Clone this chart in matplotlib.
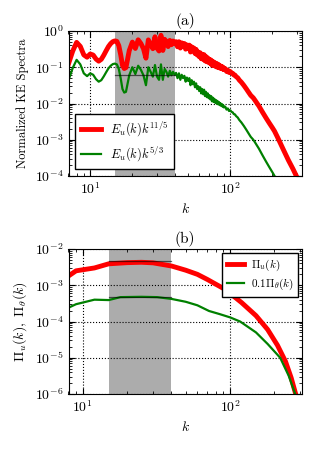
import numpy as np
import matplotlib
matplotlib.use("Agg")
import matplotlib.pyplot as plt

plt.rcParams.update({
    "font.family": "serif",
    "font.serif": ["cmr10", "DejaVu Serif"],
    "mathtext.fontset": "cm",
    "axes.formatter.use_mathtext": True,
    "font.size": 10,
    "xtick.direction": "in",
    "ytick.direction": "in",
    "xtick.top": True,
    "ytick.right": True,
    "xtick.major.size": 4,
    "ytick.major.size": 4,
    "xtick.minor.size": 2,
    "ytick.minor.size": 2,
    "axes.unicode_minus": False,
})

# ---- panel (a): compensated spectrum E_u(k) k^{5/3} ----
k_spec = [7, 7.5, 8, 8.5, 9, 9.5, 10, 10.5, 11, 11.5, 12, 12.5, 13, 13.5, 14, 14.5,
          15, 15.5, 16, 16.5, 17, 17.5, 18, 19, 20, 21, 22, 23, 24, 25, 26, 27, 28,
          29, 30, 31, 32, 33, 34, 35, 36, 37, 38, 39, 40, 41, 42, 43, 44, 45, 46,
          47, 48, 49, 50, 51, 52, 53, 54, 55, 56, 57, 58, 59, 60, 61, 62, 63, 64,
          65, 66, 67, 68, 69, 70, 71, 72, 73, 74, 75, 76, 77, 78, 79, 80, 81, 82,
          83, 84, 85, 86, 87, 88, 89, 90, 92, 94, 96, 98, 100, 102, 104, 106, 108,
          110, 113, 116, 120, 125, 130, 135, 140, 146, 150, 160, 170, 180, 190,
          200, 207, 220, 240, 260, 280, 300, 325]
E_k53 = [0.044, 0.095, 0.16, 0.12, 0.068, 0.057, 0.068, 0.062, 0.047, 0.04, 0.044,
         0.056, 0.073, 0.093, 0.11, 0.122, 0.126, 0.12, 0.09, 0.05, 0.025, 0.02,
         0.021, 0.06, 0.1, 0.065, 0.11, 0.085, 0.06, 0.032, 0.1, 0.075, 0.055,
         0.115, 0.055, 0.045, 0.12, 0.045, 0.09, 0.075, 0.055, 0.08, 0.06, 0.075,
         0.062, 0.07, 0.05, 0.068, 0.045, 0.062, 0.05, 0.058, 0.04, 0.052, 0.042,
         0.05, 0.032, 0.044, 0.034, 0.04, 0.028, 0.036, 0.025, 0.03, 0.022, 0.028,
         0.019, 0.025, 0.018, 0.024, 0.016, 0.021, 0.015, 0.019, 0.014, 0.017,
         0.013, 0.016, 0.0115, 0.0145, 0.011, 0.0135, 0.0105, 0.0125, 0.0098,
         0.0118, 0.0095, 0.011, 0.009, 0.0102, 0.0086, 0.0097, 0.0082, 0.0091,
         0.0078, 0.0082, 0.0068, 0.0073, 0.0062, 0.0065, 0.0059, 0.0057, 0.0051,
         0.005, 0.0045, 0.0041, 0.0035, 0.003, 0.0024, 0.0019, 0.0015, 0.0012,
         0.001, 0.00085, 0.00057, 0.00037, 0.00025, 0.000175, 0.000126, 0.0001,
         6e-5, 2.8e-5, 1.4e-5, 7.8e-6, 4.3e-6, 2e-6]
fit_a = [0.06]          # reference level in shaded band
band = [15, 40]         # inertial-range band

# ---- panel (b): fluxes ----
k_flux_u = [8, 9, 12, 15, 20, 25, 30, 40, 50, 60, 70, 80, 90, 100, 120, 150, 180,
            210, 238, 260, 279, 300]
Pi_u = [1.8e-3, 2.5e-3, 3.0e-3, 3.9e-3, 4.2e-3, 4.3e-3, 4.15e-3, 3.4e-3, 2.6e-3,
        2.0e-3, 1.45e-3, 1.07e-3, 8.2e-4, 6.0e-4, 3.3e-4, 1.45e-4, 6.0e-5,
        2.2e-5, 7.9e-6, 2.8e-6, 1.0e-6, 2.8e-7]
k_flux_t = [8, 9, 12, 15, 18, 25, 32, 40, 50, 60, 72, 85, 100, 117, 150, 180, 219,
            250, 277, 300]
Pi_t01 = [2.4e-4, 3.0e-4, 4.0e-4, 3.9e-4, 4.7e-4, 4.8e-4, 4.7e-4, 4.2e-4, 3.5e-4,
          2.8e-4, 1.95e-4, 1.6e-4, 1.3e-4, 1.0e-4, 5.0e-5, 2.4e-5, 1.0e-5,
          3.2e-6, 1.0e-6, 3.0e-7]
fit_b = [4.8e-3, 4.8e-4]

k_spec_a = np.array(k_spec)
green = np.array(E_k53)
red = green * k_spec_a ** (11 / 5 - 5 / 3)

W, H = 315, 450
fig = plt.figure(figsize=(W / 100, H / 100), dpi=100)
ax1 = fig.add_axes([68.5 / W, 1 - 176 / H, 233.5 / W, 145 / H])
ax2 = fig.add_axes([68.5 / W, 1 - 394 / H, 233.5 / W, 145 / H])

shade = "#acacac"

# (a)
ax1.axvspan(band[0], band[1], color=shade, lw=0, zorder=0)
ax1.plot(k_spec_a, red, color="red", lw=3.5, label=r"$E_u(k)k^{11/5}$",
         solid_joinstyle="round")
ax1.plot(k_spec_a, green, color="green", lw=1.6, label=r"$E_u(k)k^{5/3}$")
for lv in fit_a:
    ax1.plot(band, [lv, lv], color="k", lw=0.9, alpha=0.6)
ax1.set_xscale("log")
ax1.set_yscale("log")
ax1.set_xlim(7, 325)
ax1.set_ylim(1e-4, 1)
ax1.grid(True, which="major", color="k", linestyle=":", lw=0.8)
ax1.set_title("(a)", fontsize=11, pad=4)
ax1.set_xlabel(r"$k$")
ax1.set_ylabel("Normalized KE Spectra", fontsize=9)
leg1 = ax1.legend(loc="lower left", fontsize=9, fancybox=False, framealpha=1,
                  edgecolor="k", handlelength=1.6, handletextpad=0.75,
                  borderpad=0.45, labelspacing=0.45, borderaxespad=0.55)
leg1.get_frame().set_linewidth(1.0)

# (b)
ax2.axvspan(band[0], band[1], color=shade, lw=0, zorder=0)
ax2.plot(k_flux_u, Pi_u, color="red", lw=3.5, label=r"$\Pi_u(k)$")
ax2.plot(k_flux_t, Pi_t01, color="green", lw=1.6, label=r"$0.1\Pi_\theta(k)$")
for lv in fit_b:
    ax2.plot(band, [lv, lv], color="k", lw=0.9, alpha=0.6)
ax2.set_xscale("log")
ax2.set_yscale("log")
ax2.set_xlim(8, 308)
ax2.set_ylim(1e-6, 1e-2)
ax2.grid(True, which="major", color="k", linestyle=":", lw=0.8)
ax2.set_title("(b)", fontsize=11, pad=4)
ax2.set_xlabel(r"$k$")
ax2.set_ylabel(r"$\Pi_u(k),\ \Pi_\theta(k)$", fontsize=10)
leg2 = ax2.legend(loc="upper right", fontsize=8, fancybox=False, framealpha=1,
                  edgecolor="k", handlelength=1.6, handletextpad=0.6,
                  borderpad=0.4, labelspacing=0.4, borderaxespad=0.35)
leg2.get_frame().set_linewidth(1.0)

for ax in (ax1, ax2):
    ax.tick_params(labelsize=10)

fig.savefig("out.png", dpi=100)
